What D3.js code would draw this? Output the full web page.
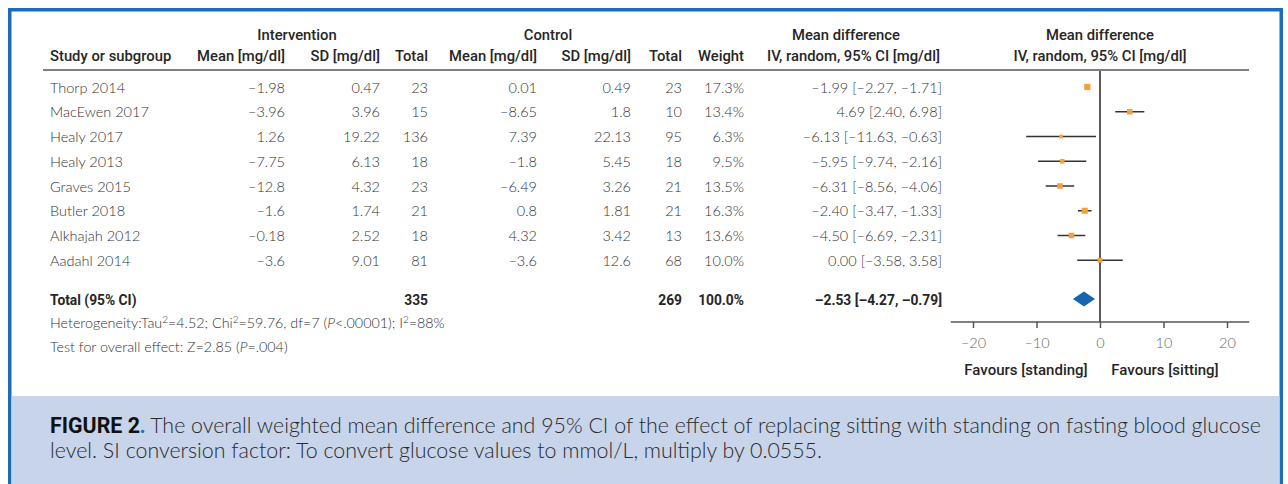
<!DOCTYPE html>
<html>
<head>
<meta charset="utf-8">
<script src="https://cdn.jsdelivr.net/npm/d3@7"></script>
<style>
  html, body { margin: 0; padding: 0; background: #fff; }
  svg { display: block; }
  .body { font-family: Lato, "Open Sans", sans-serif; font-weight: 300; fill: #333; }
  .head { font-family: Roboto, "DejaVu Sans", sans-serif; font-weight: 500; fill: #262626; }
</style>
</head>
<body>
<svg id="chart" width="1288" height="484"></svg>
<script>
// Study-level data (glucose in mg/dl)
const studies   = ["Thorp 2014", "MacEwen 2017", "Healy 2017", "Healy 2013", "Graves 2015", "Butler 2018", "Alkhajah 2012", "Aadahl 2014"];
const intMean   = [-1.98, -3.96, 1.26, -7.75, -12.8, -1.6, -0.18, -3.6];
const intSD     = [0.47, 3.96, 19.22, 6.13, 4.32, 1.74, 2.52, 9.01];
const intN      = [23, 15, 136, 18, 23, 21, 18, 81];
const ctlMean   = [0.01, -8.65, 7.39, -1.8, -6.49, 0.8, 4.32, -3.6];
const ctlSD     = [0.49, 1.8, 22.13, 5.45, 3.26, 1.81, 3.42, 12.6];
const ctlN      = [23, 10, 95, 18, 21, 21, 13, 68];
const weights   = [17.3, 13.4, 6.3, 9.5, 13.5, 16.3, 13.6, 10.0];
const meanDiff  = [-1.99, 4.69, -6.13, -5.95, -6.31, -2.40, -4.50, 0.00];
const ciLow     = [-2.27, 2.40, -11.63, -9.74, -8.56, -3.47, -6.69, -3.58];
const ciHigh    = [-1.71, 6.98, -0.63, -2.16, -4.06, -1.33, -2.31, 3.58];

// Pooled estimate
const totalIntN = 335;
const totalCtlN = 269;
const totalWeight = 100.0;
const pooledMD = -2.53;
const pooledLow = -4.27;
const pooledHigh = -0.79;

// Axis
const axisTicks = [-20, -10, 0, 10, 20];
const axisExtent = [-23.5, 23.5];

const svg = d3.select("#chart");
const dash = s => String(s).replace(/-/g, "\u2013");
const f2 = v => dash(v.toFixed(2));

// Frame and caption panel
svg.append("rect").attr("x", 9.75).attr("y", 9.75).attr("width", 1271.5).attr("height", 490)
  .attr("fill", "none").attr("stroke", "#1c6db8").attr("stroke-width", 3.5);
svg.append("rect").attr("x", 11.5).attr("y", 396).attr("width", 1268).attr("height", 88)
  .attr("fill", "#c7d4ea");

// Row layout
const rowY = d3.scaleLinear().domain([0, 1]).range([92.5, 117.25]);
const totalY = 305;

// Forest-plot scale
const x = d3.scaleLinear().domain([-10, 10]).range([1036.5, 1163.5]);
const axisY = 322;

// Column definitions (right-aligned numeric columns)
const cols = [
  { x: 285, vals: intMean.map(dash) },
  { x: 380, vals: intSD.map(String) },
  { x: 428, vals: intN.map(String) },
  { x: 537, vals: ctlMean.map(dash) },
  { x: 631, vals: ctlSD.map(String) },
  { x: 682, vals: ctlN.map(String) },
  { x: 744, vals: weights.map(w => w.toFixed(1) + "%") },
  { x: 942, vals: meanDiff.map((m, i) => `${f2(m)} [${f2(ciLow[i])}, ${f2(ciHigh[i])}]`) }
];

// Header
const head = svg.append("g").attr("class", "head").style("font-size", "14.8px");
const groupHeads = [
  { t: "Intervention", x: 297, a: "middle" },
  { t: "Control", x: 548, a: "middle" },
  { t: "Mean difference", x: 846, a: "middle" },
  { t: "Mean difference", x: 1100, a: "middle" }
];
head.selectAll(".g1").data(groupHeads).join("text")
  .attr("x", d => d.x).attr("y", 40).attr("text-anchor", d => d.a).text(d => d.t);
const subHeads = [
  { t: "Study or subgroup", x: 50, a: "start" },
  { t: "Mean [mg/dl]", x: 285, a: "end" },
  { t: "SD [mg/dl]", x: 380, a: "end" },
  { t: "Total", x: 428, a: "end" },
  { t: "Mean [mg/dl]", x: 537, a: "end" },
  { t: "SD [mg/dl]", x: 631, a: "end" },
  { t: "Total", x: 682, a: "end" },
  { t: "Weight", x: 744, a: "end" },
  { t: "IV, random, 95% CI [mg/dl]", x: 940, a: "end" },
  { t: "IV, random, 95% CI [mg/dl]", x: 1100, a: "middle" }
];
head.selectAll(".g2").data(subHeads).join("text")
  .attr("x", d => d.x).attr("y", 61).attr("text-anchor", d => d.a).text(d => d.t);

svg.append("line").attr("x1", 43).attr("x2", 1249).attr("y1", 70).attr("y2", 70)
  .attr("stroke", "#555").attr("stroke-width", 1.5);

// Study rows
const body = svg.append("g").attr("class", "body").style("font-size", "14.5px");
body.selectAll(".name").data(studies).join("text")
  .attr("x", 50).attr("y", (d, i) => rowY(i)).text(d => d);
cols.forEach(c => {
  body.append("g").selectAll("text").data(c.vals).join("text")
    .attr("x", c.x).attr("y", (d, i) => rowY(i)).attr("text-anchor", "end").text(d => d);
});

// Total row
const totals = [
  { t: "Total (95% CI)", x: 50, a: "start" },
  { t: String(totalIntN), x: 428, a: "end" },
  { t: String(totalCtlN), x: 682, a: "end" },
  { t: totalWeight.toFixed(1) + "%", x: 744, a: "end" },
  { t: `${f2(pooledMD)} [${f2(pooledLow)}, ${f2(pooledHigh)}]`, x: 942, a: "end" }
];
svg.append("g").attr("class", "head").style("font-size", "13.8px").style("font-weight", 700)
  .selectAll("text").data(totals).join("text")
  .attr("x", d => d.x).attr("y", totalY).attr("text-anchor", d => d.a).text(d => d.t);

// Heterogeneity and overall-effect notes
const notes = svg.append("g").attr("class", "body").style("font-size", "14.3px");
const het = notes.append("text").attr("x", 50).attr("y", 328);
het.append("tspan").text("Heterogeneity:Tau");
het.append("tspan").attr("dy", -5).style("font-size", "10px").text("2");
het.append("tspan").attr("dy", 5).text("=4.52; Chi");
het.append("tspan").attr("dy", -5).style("font-size", "10px").text("2");
het.append("tspan").attr("dy", 5).text("=59.76, df=7 (");
het.append("tspan").style("font-style", "italic").text("P");
het.append("tspan").text("<.00001); I");
het.append("tspan").attr("dy", -5).style("font-size", "10px").text("2");
het.append("tspan").attr("dy", 5).text("=88%");
const eff = notes.append("text").attr("x", 50).attr("y", 352);
eff.append("tspan").text("Test for overall effect: Z=2.85 (");
eff.append("tspan").style("font-style", "italic").text("P");
eff.append("tspan").text("=.004)");

// Zero line
svg.append("line").attr("x1", x(0)).attr("x2", x(0)).attr("y1", 71).attr("y2", axisY)
  .attr("stroke", "#5a5a5a").attr("stroke-width", 2);

// Confidence intervals and weighted squares
const forest = svg.append("g");
const idx = d3.range(studies.length);
forest.selectAll(".ci").data(idx).join("line")
  .attr("x1", i => x(ciLow[i])).attr("x2", i => x(ciHigh[i]))
  .attr("y1", i => rowY(i) - 5.5).attr("y2", i => rowY(i) - 5.5)
  .attr("stroke", "#333").attr("stroke-width", 1.5);
const side = i => 1.5 * Math.sqrt(weights[i]);
forest.selectAll(".sq").data(idx).join("rect")
  .attr("x", i => x(meanDiff[i]) - side(i) / 2)
  .attr("y", i => rowY(i) - 5.5 - side(i) / 2)
  .attr("width", side).attr("height", side)
  .attr("fill", "#f4a03c");

// Pooled diamond
const dy = totalY - 6;
svg.append("path")
  .attr("d", `M${x(pooledLow)},${dy} L${x(pooledMD)},${dy - 7.5} L${x(pooledHigh)},${dy} L${x(pooledMD)},${dy + 7.5} Z`)
  .attr("fill", "#1565b0");

// Bottom axis
const axisG = svg.append("g").attr("transform", `translate(0,${axisY})`);
axisG.append("line").attr("x1", x(axisExtent[0])).attr("x2", x(axisExtent[1]))
  .attr("stroke", "#555").attr("stroke-width", 1.5);
const ax = d3.axisBottom(x).tickValues(axisTicks).tickSize(6).tickPadding(10).tickFormat(dash);
axisG.call(ax);
axisG.select(".domain").remove();
axisG.selectAll(".tick line").attr("stroke", "#555").attr("stroke-width", 1.5);
axisG.selectAll(".tick text").attr("fill", "#666")
  .style("font-family", "Lato, sans-serif").style("font-weight", 300).style("font-size", "14.5px");

// Direction labels
svg.append("g").attr("class", "head").style("font-size", "15px")
  .selectAll("text").data([
    { t: "Favours [standing]", x: 1026 },
    { t: "Favours [sitting]", x: 1165 }
  ]).join("text")
  .attr("x", d => d.x).attr("y", 375).attr("text-anchor", "middle").text(d => d.t);

// Caption
const cap = svg.append("g").style("font-family", "Lato, sans-serif").style("font-weight", 300);
const line1 = cap.append("text").attr("x", 50).attr("y", 433).attr("fill", "#2a2a2a");
line1.append("tspan").attr("fill", "#111").style("font-family", "Roboto, sans-serif")
  .style("font-weight", 700).text("FIGURE 2");
line1.append("tspan").attr("fill", "#1c6db8").style("font-weight", 700).text(".");
line1.append("tspan").text(" The overall weighted mean difference and 95% CI of the effect of replacing sitting with standing on fasting blood glucose");
const line2 = cap.append("text").attr("x", 50).attr("y", 458).attr("fill", "#2a2a2a")
  .text("level. SI conversion factor: To convert glucose values to mmol/L, multiply by 0.0555.");
cap.style("font-size", "19px");
const w1 = line1.node().getComputedTextLength();
cap.style("font-size", (19 * 1212 / w1).toFixed(2) + "px");
</script>
</body>
</html>
